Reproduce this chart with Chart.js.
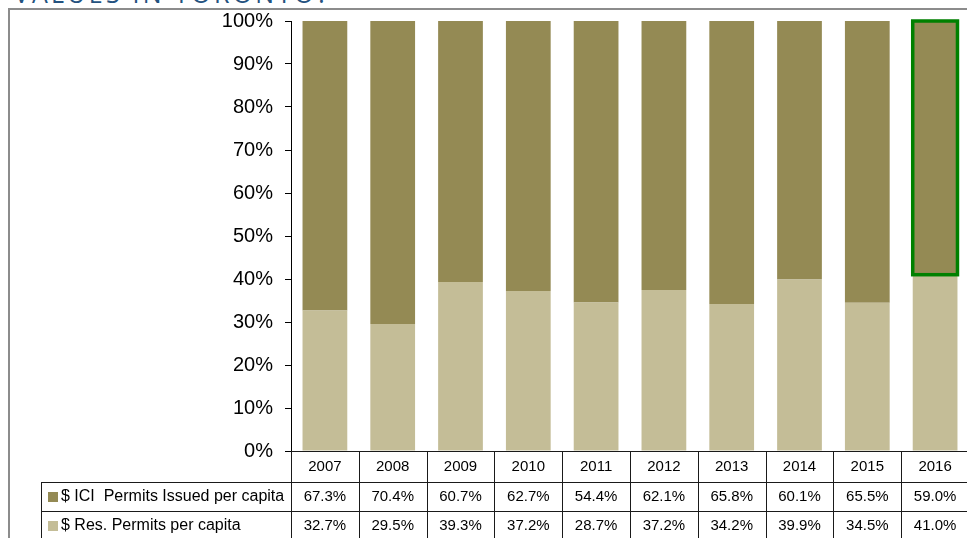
<!DOCTYPE html>
<html>
<head>
<meta charset="utf-8">
<script src="https://cdn.jsdelivr.net/npm/chart.js@4.4.1/dist/chart.umd.min.js"></script>
<style>
    body { margin: 0; background: #fff; overflow: hidden; }
    #wrap { position: relative; width: 967px; height: 538px; overflow: hidden; }
    #frame { position: absolute; left: 8px; top: 8px; right: -10px; bottom: -10px;
             border-left: 2px solid #8c8c8c; border-top: 2px solid #8c8c8c; }
    #title { position: absolute; left: 14px; top: -24px; font-family: "Open Sans", sans-serif;
             font-weight: 400; font-size: 25px; letter-spacing: 3.2px; color: #24527f; white-space: nowrap; }
    canvas { position: absolute; left: 0; top: 0; }
</style>
</head>
<body>
<div id="wrap">
    <div id="title">VALUES IN TORONTO?</div>
    <div id="frame"></div>
    <canvas id="permitChart" width="969" height="538"></canvas>
</div>
<script>
// 年ごとの許可額の割合（表の数値）
const years = ['2007', '2008', '2009', '2010', '2011', '2012', '2013', '2014', '2015', '2016'];
const iciPct = [67.3, 70.4, 60.7, 62.7, 54.4, 62.1, 65.8, 60.1, 65.5, 59.0];
const resPct = [32.7, 29.5, 39.3, 37.2, 28.7, 37.2, 34.2, 39.9, 34.5, 41.0];
const iciLabel = '$ ICI  Permits Issued per capita';
const resLabel = '$ Res. Permits per capita';
const highlightIndex = 9; // 2016

const iciColor = '#948a54';
const resColor = '#c4bd97';

// 100%積み上げなので合計で割って割合にする
const resShare = resPct.map((v, i) => v / (v + iciPct[i]) * 100);
const iciShare = iciPct.map((v, i) => v / (v + resPct[i]) * 100);

// 2016年のICI棒を緑の枠で囲む
const highlightPlugin = {
    id: 'highlight',
    afterDatasetsDraw(chart) {
        const bar = chart.getDatasetMeta(1).data[highlightIndex];
        const ctx = chart.ctx;
        const half = bar.width / 2;
        ctx.save();
        ctx.strokeStyle = '#008000';
        ctx.lineWidth = 3.5;
        ctx.strokeRect(bar.x - half, bar.y, bar.width, bar.base - bar.y);
        ctx.restore();
    }
};

// グラフ下のデータテーブル
const tablePlugin = {
    id: 'dataTable',
    afterDraw(chart) {
        const ctx = chart.ctx;
        const x = chart.scales.x;
        const area = chart.chartArea;
        const colW = x.width / years.length;
        const labelLeft = 41;
        const rowTop = [area.bottom, area.bottom + 31, area.bottom + 60, area.bottom + 89];
        const right = area.left + colW * years.length;

        ctx.save();
        ctx.strokeStyle = '#1a1a1a';
        ctx.lineWidth = 1;
        ctx.beginPath();
        // 横線
        ctx.moveTo(area.left, rowTop[0] + 0.5); ctx.lineTo(right, rowTop[0] + 0.5);
        ctx.moveTo(labelLeft, rowTop[1] + 0.5); ctx.lineTo(right, rowTop[1] + 0.5);
        ctx.moveTo(labelLeft, rowTop[2] + 0.5); ctx.lineTo(right, rowTop[2] + 0.5);
        // 縦線
        ctx.moveTo(labelLeft + 0.5, rowTop[1]); ctx.lineTo(labelLeft + 0.5, rowTop[3]);
        for (let i = 0; i <= years.length; i++) {
            const bx = Math.round(area.left + colW * i) + 0.5;
            ctx.moveTo(bx, rowTop[0]); ctx.lineTo(bx, rowTop[3]);
        }
        ctx.stroke();

        ctx.fillStyle = '#000';
        ctx.font = '15px "Liberation Sans", Arial, sans-serif';
        ctx.textAlign = 'center';
        ctx.textBaseline = 'middle';
        years.forEach((yr, i) => {
            const cx = x.getPixelForValue(i);
            ctx.fillText(yr, cx, (rowTop[0] + rowTop[1]) / 2 + 0.5);
            ctx.fillText(iciPct[i].toFixed(1) + '%', cx, (rowTop[1] + rowTop[2]) / 2 + 0.5);
            ctx.fillText(resPct[i].toFixed(1) + '%', cx, (rowTop[2] + rowTop[3]) / 2 + 0.5);
        });

        // 凡例
        const rows = [[iciLabel, iciColor, rowTop[1], rowTop[2]], [resLabel, resColor, rowTop[2], rowTop[3]]];
        ctx.textAlign = 'left';
        ctx.font = '16px "Liberation Sans", Arial, sans-serif';
        rows.forEach(([text, color, top, bottom]) => {
            const cy = (top + bottom) / 2;
            ctx.fillStyle = color;
            ctx.fillRect(48, Math.round(cy - 5), 10, 10);
            ctx.fillStyle = '#000';
            ctx.fillText(text, 61, cy + 0.5);
        });
        ctx.restore();
    }
};

const ctx = document.getElementById('permitChart').getContext('2d');
const permitChart = new Chart(ctx, {
    type: 'bar',
    data: {
        labels: years,
        datasets: [{
            label: resLabel,
            data: resShare,
            backgroundColor: resColor,
            borderWidth: 0
        }, {
            label: iciLabel,
            data: iciShare,
            backgroundColor: iciColor,
            borderWidth: 0
        }]
    },
    options: {
        responsive: false,
        animation: false,
        layout: {
            padding: { left: 0, right: 0, top: 21, bottom: 87 }
        },
        datasets: {
            bar: { categoryPercentage: 1, barPercentage: 0.66 }
        },
        plugins: {
            legend: { display: false },
            tooltip: { enabled: false }
        },
        scales: {
            x: {
                stacked: true,
                display: false
            },
            y: {
                stacked: true,
                min: 0,
                max: 100,
                afterFit(scale) {
                    scale.width = 291;
                    scale.paddingTop = 10;
                    scale.paddingBottom = 10;
                },
                ticks: {
                    stepSize: 10,
                    padding: 12,
                    color: '#000',
                    font: { family: '"Liberation Sans", Arial, sans-serif', size: 20 },
                    callback: v => v + '%'
                },
                grid: {
                    drawOnChartArea: false,
                    drawTicks: true,
                    tickLength: 6,
                    color: '#000'
                },
                border: { display: true, color: '#000' }
            }
        }
    },
    plugins: [highlightPlugin, tablePlugin]
});
</script>
</body>
</html>
